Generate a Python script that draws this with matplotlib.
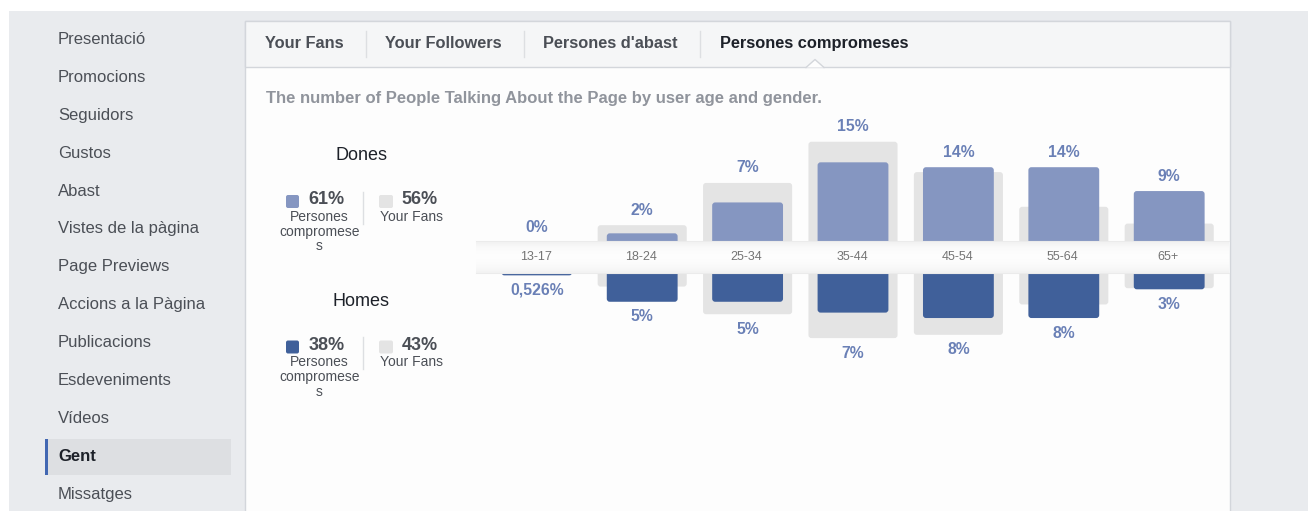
import numpy as np
import matplotlib
matplotlib.use('Agg')
import matplotlib.pyplot as plt
from matplotlib.patches import Rectangle, FancyBboxPatch, Polygon

plt.rcParams['font.family'] = ['Liberation Sans', 'DejaVu Sans']

# data (percent of people)
age_groups = ['13-17', '18-24', '25-34', '35-44', '45-54', '55-64', '65+']
women_engaged = [0.0, 1.6, 7.3, 14.7, 13.8, 13.8, 9.4]
women_fans = [0.0, 3.1, 10.9, 18.5, 12.9, 6.5, 3.4]
men_engaged = [0.526, 5.4, 5.4, 7.4, 8.4, 8.4, 3.1]
men_fans = [0.0, 2.6, 7.7, 12.1, 11.5, 5.9, 2.9]
women_labels = ['0%', '2%', '7%', '15%', '14%', '14%', '9%']
men_labels = ['0,526%', '5%', '5%', '7%', '8%', '8%', '3%']

women_total = ['61%', '56%']
men_total = ['38%', '43%']

menu_items = ['Presentació', 'Promocions', 'Seguidors', 'Gustos', 'Abast',
              'Vistes de la pàgina', 'Page Previews', 'Accions a la Pàgina',
              'Publicacions', 'Esdeveniments', 'Vídeos', 'Gent', 'Missatges']
tabs = ['Your Fans', 'Your Followers', "Persones d'abast", 'Persones compromeses']

W, H = 1308, 511
C_WOMEN = '#8596c1'
C_MEN = '#40609a'
C_FANS = '#e4e4e4'
C_LABEL = '#6a80b6'
C_TEXT = '#4b4f56'

fig = plt.figure(figsize=(W / 100, H / 100), dpi=100)
fig.patch.set_facecolor('white')

# background axes in pixel coordinates
bg = fig.add_axes([0, 0, 1, 1], zorder=0)
bg.set_xlim(0, W)
bg.set_ylim(H, 0)
bg.axis('off')

bg.add_patch(Rectangle((9, 11), W - 9, H - 11, color='#e9ebee', lw=0))

# sidebar
bg.add_patch(Rectangle((45, 439), 186, 36, color='#dddfe2', lw=0))
bg.add_patch(Rectangle((45, 439), 3, 36, color='#4267b2', lw=0))
for k, item in enumerate(menu_items):
    bg.text(58, 39.5 + 37.9 * k, item, fontsize=12, color='#1d2129' if item == 'Gent' else C_TEXT,
            va='center', ha='left', fontweight='bold' if item == 'Gent' else 'normal')

# main panel
bg.add_patch(Rectangle((245, 21), 985, H, facecolor='#fdfdfd', edgecolor='#d3d6db', lw=1))
bg.add_patch(Rectangle((245, 21), 985, 46.5, facecolor='#f5f6f7', edgecolor='#d3d6db', lw=1))
bg.add_patch(Polygon([(806, 67.5), (815, 59.5), (824, 67.5)], closed=True,
                     facecolor='#fdfdfd', edgecolor='none', zorder=3))
bg.plot([806, 815, 824], [67.5, 59.5, 67.5], color='#d3d6db', lw=1, zorder=4)

tab_x = [265, 385, 543, 720]
for tx, name in zip(tab_x, tabs):
    active = name == 'Persones compromeses'
    bg.text(tx, 43.5, name, fontsize=11.8, fontweight='bold', va='center', ha='left',
            color='#1d2129' if active else C_TEXT)
for sx in [366, 524, 700]:
    bg.plot([sx, sx], [31, 57], color='#dddfe2', lw=1)

bg.text(266, 98, 'The number of People Talking About the Page by user age and gender.',
        fontsize=12, fontweight='bold', color='#90949c', va='center', ha='left')


# legend blocks
def legend_block(y0, title, totals, color):
    bg.text(361.5, y0, title, fontsize=13, color='#1d2129', ha='center', va='center')
    bg.add_patch(FancyBboxPatch((286, y0 + 39), 13, 13, boxstyle='round,pad=0,rounding_size=2',
                                facecolor=color, edgecolor='none'))
    bg.text(308.5, y0 + 43.5, totals[0], fontsize=13, fontweight='bold', color=C_TEXT,
            ha='left', va='center')
    bg.text(319.5, y0 + 54, 'Persones\ncompromese\ns', fontsize=10, color=C_TEXT,
            ha='center', va='top', linespacing=1.05)
    bg.plot([363, 363], [y0 + 36, y0 + 68], color='#dddfe2', lw=1)
    bg.add_patch(FancyBboxPatch((379, y0 + 39), 14, 13, boxstyle='round,pad=0,rounding_size=2',
                                facecolor=C_FANS, edgecolor='none'))
    bg.text(401.5, y0 + 43.5, totals[1], fontsize=13, fontweight='bold', color=C_TEXT,
            ha='left', va='center')
    bg.text(412, y0 + 54, 'Your Fans', fontsize=10, color=C_TEXT, ha='center', va='top')


legend_block(156, 'Dones', women_total, C_WOMEN)
legend_block(301.5, 'Homes', men_total, C_MEN)

# chart axes
PX_PER_PCT = 5.42
STEP = 105.4
X0, X1 = 477, 1230
CENTER0 = 536.8
TOP_BASE, TOP_LIM = 242, 100
BOT_BASE, BOT_LIM = 272.5, 400


def px_axes(x0, y0, x1, y1, z):
    return fig.add_axes([x0 / W, 1 - y1 / H, (x1 - x0) / W, (y1 - y0) / H], zorder=z)


ax_w = px_axes(X0, TOP_LIM, X1, TOP_BASE, 1)
ax_m = px_axes(X0, BOT_BASE, X1, BOT_LIM, 1)
xlim = ((X0 - CENTER0) / STEP, (X1 - CENTER0) / STEP)
ax_w.set_ylim(0, (TOP_BASE - TOP_LIM) / PX_PER_PCT)
ax_m.set_ylim((BOT_LIM - BOT_BASE) / PX_PER_PCT, 0)
aspect = STEP / PX_PER_PCT
r = 3 / STEP
ext = 2.0

for ax, engaged, fans, labels, color, sign in [
        (ax_w, women_engaged, women_fans, women_labels, C_WOMEN, 1),
        (ax_m, men_engaged, men_fans, men_labels, C_MEN, -1)]:
    ax.set_xlim(*xlim)
    ax.axis('off')
    x = np.arange(len(age_groups))
    for i in x:
        for val, w, c in [(fans[i], 0.845, C_FANS), (engaged[i], 0.672, color)]:
            if val <= 0:
                continue
            ax.add_patch(FancyBboxPatch((i - w / 2, -ext), w, val + ext,
                                        boxstyle=f'round,pad=0,rounding_size={r}',
                                        mutation_aspect=aspect, facecolor=c,
                                        edgecolor='none', clip_on=False))
        top = max(engaged[i], fans[i])
        ax.annotate(labels[i], (i, top), xytext=(0, 10.8 * sign), textcoords='offset points',
                    ha='center', va='center', fontsize=11.3, fontweight='bold', color=C_LABEL)

# age band on top
band = px_axes(476, 241.5, 1229, 273, 2)
band.set_xlim(*xlim)
band.set_ylim(0, 1)
grad = np.array([0.95, 0.97, 0.982, 0.988, 0.99, 0.988, 0.98, 0.97, 0.955]).reshape(-1, 1)
band.imshow(grad, extent=[xlim[0], xlim[1], 0, 1], aspect='auto', cmap='gray',
            vmin=0, vmax=1, interpolation='bicubic')
band.set_xticks([])
band.set_yticks([])
for s in ['left', 'right']:
    band.spines[s].set_visible(False)
for s in ['top', 'bottom']:
    band.spines[s].set_color('#ebebeb')
for i, age in enumerate(age_groups):
    band.text(i, 0.5, age, transform=band.get_xaxis_transform(), ha='center', va='center',
              fontsize=9, color='#747474')

fig.savefig('out.png', dpi=100, facecolor=fig.get_facecolor())
